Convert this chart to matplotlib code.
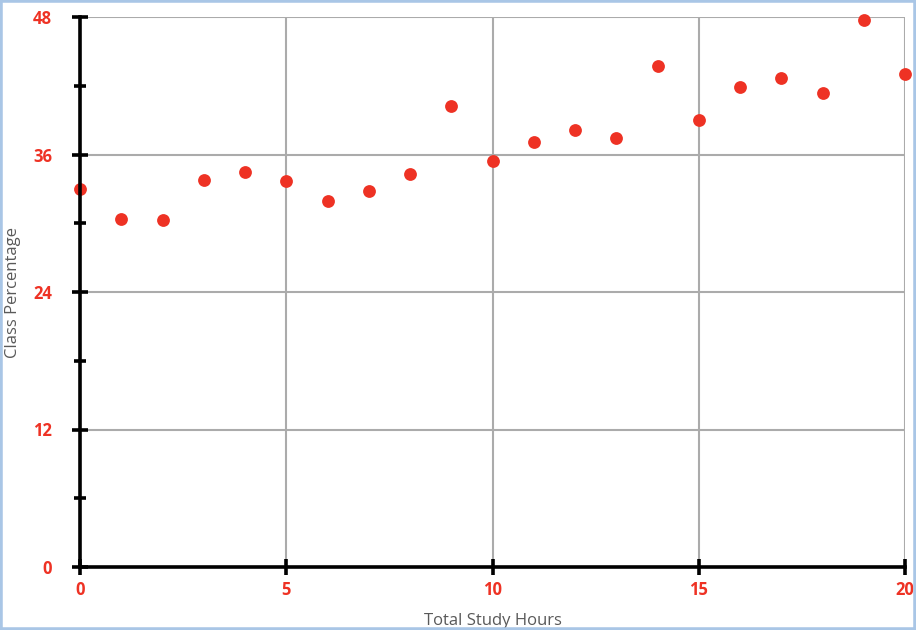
import matplotlib
matplotlib.use("Agg")
import matplotlib.pyplot as plt
from matplotlib.patches import Rectangle
from matplotlib.ticker import MultipleLocator

hours = [0, 1, 2, 3, 4, 5, 6, 7, 8, 9, 10, 11, 12, 13, 14, 15, 16, 17, 18, 19, 20]
percentage = [33.0, 30.4, 30.3, 33.8, 34.5, 33.7, 31.9, 32.8, 34.3, 40.2, 35.4,
              37.1, 38.1, 37.4, 43.7, 39.0, 41.9, 42.7, 41.4, 47.7, 43.0]
x_ticks = [0, 5, 10, 15, 20]
y_ticks = [0, 12, 24, 36, 48]

RED = "#ee3224"
GREY_TXT = "#595959"

fig = plt.figure(figsize=(9.16, 6.3), dpi=100)
ax = fig.add_axes([80/916, 63/630, 825/916, 550/630])

ax.scatter(hours, percentage, s=85, color=RED, zorder=3, clip_on=False, linewidths=0)

ax.set_xlim(0, 20)
ax.set_ylim(0, 48)
ax.set_xticks(x_ticks)
ax.set_yticks(y_ticks)
ax.yaxis.set_minor_locator(MultipleLocator(6))
ax.grid(True, which="major", color="#ababab", linewidth=1.5, zorder=0)
ax.set_axisbelow(True)

for s in ["top", "right"]:
    ax.spines[s].set_visible(False)
for s in ["left", "bottom"]:
    ax.spines[s].set_linewidth(2.6)
    ax.spines[s].set_color("black")
    ax.spines[s].set_zorder(4)

ax.tick_params(axis="both", which="major", direction="inout", length=12, width=2.6,
               color="black", labelcolor=RED)
ax.tick_params(axis="y", which="minor", direction="inout", length=9, width=2.6, color="black")
for lab in ax.get_xticklabels() + ax.get_yticklabels():
    lab.set_fontweight("bold")
    lab.set_fontsize(12)
    lab.set_family("Open Sans")
ax.tick_params(axis="y", pad=14)
ax.tick_params(axis="x", pad=4)

ax.set_xlabel("Total Study Hours", color=GREY_TXT, fontsize=12, family="Open Sans")
ax.set_ylabel("Class Percentage", color=GREY_TXT, fontsize=12, family="Open Sans")
ax.xaxis.set_label_coords(0.5, -0.084)
ax.yaxis.set_label_coords(-0.071, 0.5)

fig.patches.append(Rectangle((0, 0), 1, 1, transform=fig.transFigure, fill=False,
                             edgecolor="#a9c6e6", linewidth=4, zorder=10))

fig.savefig("out.png", dpi=100)
